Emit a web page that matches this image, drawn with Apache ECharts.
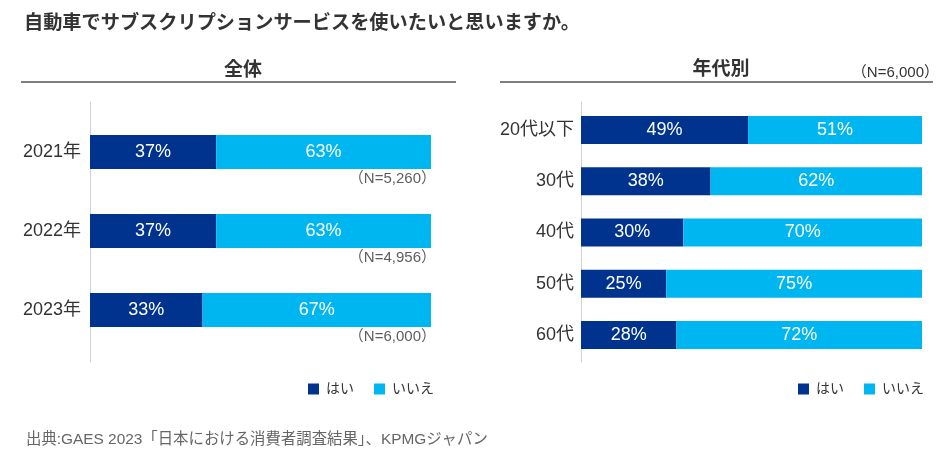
<!DOCTYPE html>
<html>
<head>
<meta charset="utf-8">
<script src="https://cdn.jsdelivr.net/npm/echarts@6/dist/echarts.min.js"></script>
<style>
html,body{margin:0;padding:0;background:#fff;}
#chart{width:940px;height:450px;}
</style>
</head>
<body>
<div id="chart"></div>
<script>
// ---- data ----
const yearCategories = ['2021年', '2022年', '2023年'];
const yearYes = [37, 37, 33];
const yearNo = [63, 63, 67];
const yearN = ['5,260', '4,956', '6,000'];

const ageCategories = ['20代以下', '30代', '40代', '50代', '60代'];
const ageYes = [49, 38, 30, 25, 28];
const ageNo = [51, 62, 70, 75, 72];
const ageN = '6,000';

const seriesNames = ['はい', 'いいえ'];
const mainTitle = '自動車でサブスクリプションサービスを使いたいと思いますか。';
const leftTitle = '全体';
const rightTitle = '年代別';
const sourceText = '出典:GAES 2023「日本における消費者調査結果」、KPMGジャパン';

// ---- style ----
const FONT = '"Liberation Sans", "Noto Sans CJK JP", sans-serif';
const DARK = '#00338D';
const LIGHT = '#00B6F0';
const TEXT = '#333333';

const chart = echarts.init(document.getElementById('chart'), null, {renderer: 'canvas'});

const barLabel = {
  show: true, position: 'inside', color: '#ffffff',
  fontSize: 18, fontFamily: FONT,
  formatter: p => p.value + '%'
};

const hiddenX = (gi) => ({type: 'value', gridIndex: gi, min: 0, max: 100, show: false});

const option = {
  backgroundColor: '#ffffff',
  animation: false,
  textStyle: {fontFamily: FONT},
  title: [
    {text: mainTitle, left: 19, top: 9, textStyle: {fontSize: 19.2, fontWeight: 'bold', color: TEXT, fontFamily: FONT}},
    {text: leftTitle, left: 238, textAlign: 'center', top: 56, textStyle: {fontSize: 19, fontWeight: 'bold', color: TEXT, fontFamily: FONT}},
    {text: rightTitle, left: 716, textAlign: 'center', top: 55, textStyle: {fontSize: 19, fontWeight: 'bold', color: TEXT, fontFamily: FONT}},
    {text: '（N=' + ageN + '）', left: 934, textAlign: 'right', top: 60, textStyle: {fontSize: 15, fontWeight: 'normal', color: TEXT, fontFamily: FONT}},
    {text: sourceText, left: 21, top: 427, textStyle: {fontSize: 15.4, fontWeight: 'normal', color: '#666666', fontFamily: FONT}}
  ],
  graphic: [
    {type: 'line', shape: {x1: 21, y1: 82, x2: 456, y2: 82}, style: {stroke: '#555555', lineWidth: 1.5}},
    {type: 'line', shape: {x1: 500, y1: 82, x2: 933, y2: 82}, style: {stroke: '#555555', lineWidth: 1.5}}
  ],
  legend: [
    {data: seriesNames, left: 308, top: 382, padding: 0, icon: 'rect', itemWidth: 11, itemHeight: 11, itemGap: 20,
     textStyle: {fontSize: 14, color: TEXT, fontFamily: FONT, padding: [0, 0, 0, 2]}, selectedMode: false},
    {data: seriesNames, left: 798, top: 382, padding: 0, icon: 'rect', itemWidth: 11, itemHeight: 11, itemGap: 20,
     textStyle: {fontSize: 14, color: TEXT, fontFamily: FONT, padding: [0, 0, 0, 2]}, selectedMode: false}
  ],
  grid: [
    {left: 90, width: 341, top: 112.5, height: 237},
    {left: 90, width: 341, top: 102, height: 260},
    {left: 581, width: 341, top: 104.5, height: 256},
    {left: 581, width: 341, top: 102, height: 260}
  ],
  xAxis: [hiddenX(0), hiddenX(1), hiddenX(2), hiddenX(3)],
  yAxis: [
    {type: 'category', gridIndex: 0, data: yearCategories, inverse: true,
     axisLine: {show: false}, axisTick: {show: false},
     axisLabel: {fontSize: 18, color: TEXT, margin: 9, fontFamily: FONT}},
    {type: 'category', gridIndex: 1, data: [''],
     axisLine: {show: true, lineStyle: {color: '#d0d0d0', width: 1}}, axisTick: {show: false}, axisLabel: {show: false}},
    {type: 'category', gridIndex: 2, data: ageCategories, inverse: true,
     axisLine: {show: false}, axisTick: {show: false},
     axisLabel: {fontSize: 18, color: TEXT, margin: 7, fontFamily: FONT}},
    {type: 'category', gridIndex: 3, data: [''],
     axisLine: {show: true, lineStyle: {color: '#d0d0d0', width: 1}}, axisTick: {show: false}, axisLabel: {show: false}}
  ],
  series: [
    {name: seriesNames[0], type: 'bar', xAxisIndex: 0, yAxisIndex: 0, stack: 'a', barWidth: 34,
     itemStyle: {color: DARK}, label: barLabel, data: yearYes},
    {name: seriesNames[1], type: 'bar', xAxisIndex: 0, yAxisIndex: 0, stack: 'a', barWidth: 34,
     itemStyle: {color: LIGHT}, label: barLabel, data: yearNo},
    {name: 'N', type: 'scatter', xAxisIndex: 0, yAxisIndex: 0, symbolSize: 0, silent: true,
     data: yearCategories.map((c, i) => [100, c, yearN[i]]),
     label: {show: true, position: 'left', distance: 0, offset: [5, 27], color: TEXT, fontSize: 15, fontFamily: FONT,
             formatter: p => '（N=' + p.value[2] + '）'}},
    {name: seriesNames[0], type: 'bar', xAxisIndex: 2, yAxisIndex: 2, stack: 'b', barWidth: 28,
     itemStyle: {color: DARK}, label: barLabel, data: ageYes},
    {name: seriesNames[1], type: 'bar', xAxisIndex: 2, yAxisIndex: 2, stack: 'b', barWidth: 28,
     itemStyle: {color: LIGHT}, label: barLabel, data: ageNo}
  ]
};
chart.setOption(option);
</script>
</body>
</html>
